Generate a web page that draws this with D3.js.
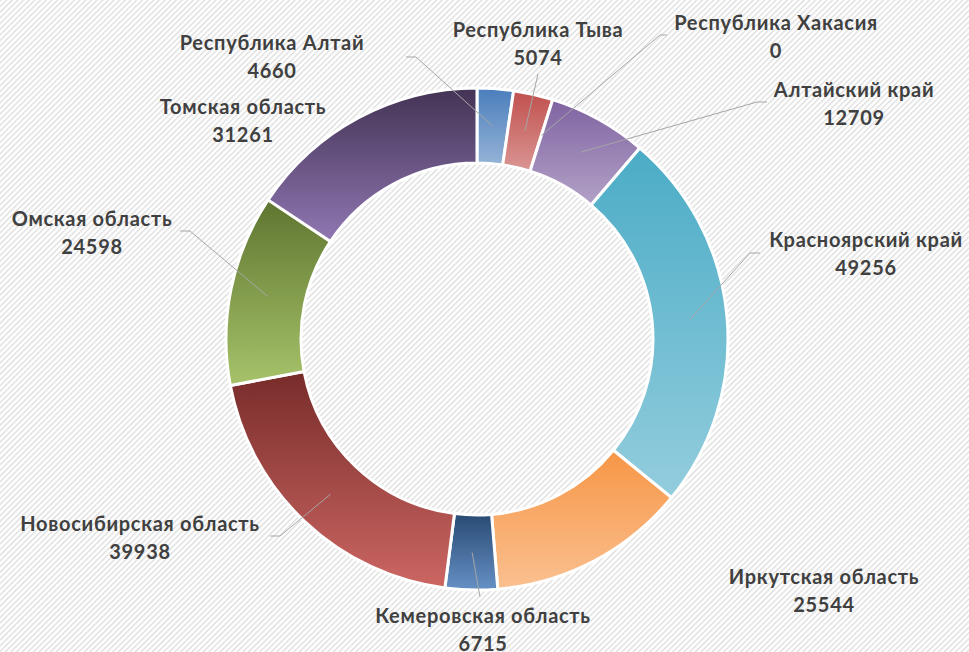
<!DOCTYPE html>
<html>
<head>
<meta charset="utf-8">
<script src="https://cdn.jsdelivr.net/npm/d3@7"></script>
<style>
  body { margin: 0; background: #fff; }
  svg { display: block; }
</style>
</head>
<body>
<div id="chart"></div>
<script>
// регионы и значения
var regions = ["Республика Алтай", "Республика Тыва", "Республика Хакасия", "Алтайский край",
  "Красноярский край", "Иркутская область", "Кемеровская область", "Новосибирская область",
  "Омская область", "Томская область"];
var values = [4660, 5074, 0, 12709, 49256, 25544, 6715, 39938, 24598, 31261];

// gradient colours, top -> bottom
var topColors = ["#4a7ebb", "#c0504d", "#9bbb59", "#7f63a1", "#4bacc6", "#f79646", "#284a73", "#772c2a", "#5f7530", "#433354"];
var botColors = ["#95b3d7", "#da9694", "#c3d69b", "#b3a2c7", "#93cddd", "#fac090", "#6690c5", "#cc6663", "#a6c36a", "#9077b3"];

// label centre (name line) and leader start, hand placed like in excel
var labelPos = [[272, 43], [538, 30], [776, 23], [854, 90], [866, 240], [824, 577], [483, 616], [140, 524], [92, 219], [243, 107]];
var leaderStart = [[[406, 57], [416, 57]], [[538, 74], [538, 74]], [[667, 35], [660, 35]], [[767, 102], [757, 102]],
  [[760, 253], [750, 253]], null, [[480, 597], [480, 597]], [[270, 536], [280, 536]], [[180, 231], [190, 231]], null];

var width = 969, height = 652,
    cx = 477, cy = 339,
    outerR = 251, innerR = 176;

var svg = d3.select("#chart").append("svg")
  .attr("width", width)
  .attr("height", height);

var defs = svg.append("defs");

// striped background
var pat = defs.append("pattern")
  .attr("id", "stripes")
  .attr("patternUnits", "userSpaceOnUse")
  .attr("width", 4).attr("height", 4)
  .attr("patternTransform", "rotate(-45)");
pat.append("rect").attr("width", 4).attr("height", 4).attr("fill", "#ffffff");
pat.append("rect").attr("width", 4).attr("height", 1.3).attr("fill", "#dcdcdc");

svg.append("rect")
  .attr("width", width).attr("height", height)
  .attr("fill", "url(#stripes)");

regions.forEach(function(r, i) {
  var g = defs.append("linearGradient")
    .attr("id", "grad" + i)
    .attr("x1", 0).attr("y1", 0).attr("x2", 0).attr("y2", 1);
  g.append("stop").attr("offset", "0%").attr("stop-color", topColors[i]);
  g.append("stop").attr("offset", "100%").attr("stop-color", botColors[i]);
});

var data = regions.map(function(r, i) { return {name: r, value: values[i], i: i}; });

var pie = d3.pie()
  .sort(null)
  .value(function(d) { return d.value; });

var arc = d3.arc()
  .innerRadius(innerR)
  .outerRadius(outerR);

var chart = svg.append("g")
  .attr("transform", "translate(" + cx + "," + cy + ")");

var arcs = pie(data);

chart.selectAll("path.slice")
  .data(arcs.filter(function(d) { return d.data.value > 0; }))
  .enter()
  .append("path")
  .attr("class", "slice")
  .attr("d", arc)
  .attr("fill", function(d) { return "url(#grad" + d.data.i + ")"; })
  .attr("stroke", "#ffffff")
  .attr("stroke-width", 3)
  .attr("stroke-linejoin", "round");

// leader lines
var line = d3.line();
arcs.forEach(function(d, i) {
  if (!leaderStart[i]) return;
  var c = arc.centroid(d);
  var pts = [leaderStart[i][0], leaderStart[i][1], [cx + c[0], cy + c[1]]];
  svg.append("path")
    .attr("d", line(pts))
    .attr("fill", "none")
    .attr("stroke", "#a6a6a6")
    .attr("stroke-width", 1);
});

// labels
var labels = svg.selectAll("g.lbl")
  .data(data)
  .enter()
  .append("g")
  .attr("class", "lbl")
  .attr("transform", function(d, i) { return "translate(" + labelPos[i][0] + "," + labelPos[i][1] + ")"; })
  .style("font-family", "Lato, 'Open Sans', sans-serif")
  .style("font-weight", "bold")
  .style("font-size", "20px")
  .style("letter-spacing", "0.7px")
  .attr("fill", "#404040")
  .attr("text-anchor", "middle");

labels.append("text")
  .attr("y", 7)
  .text(function(d) { return d.name; });

labels.append("text")
  .attr("y", 35)
  .text(function(d) { return d.value; });
</script>
</body>
</html>
